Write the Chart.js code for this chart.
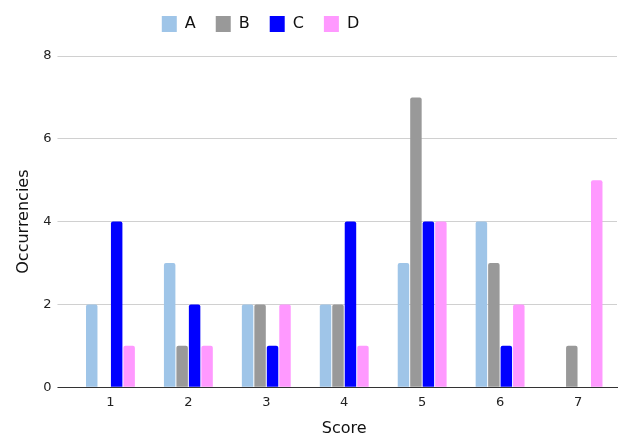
<!DOCTYPE html>
<html><head><meta charset="utf-8">
<script src="https://cdn.jsdelivr.net/npm/chart.js@4/dist/chart.umd.min.js"></script>
<style>html,body{margin:0;padding:0;background:#fff}#w{width:620px;height:436px}</style>
</head><body><div id="w"><canvas id="c"></canvas></div>
<script>
const categories = ["1","2","3","4","5","6","7"];
const seriesA = [2,3,2,2,3,4,0];
const seriesB = [0,1,2,2,7,3,1];
const seriesC = [4,2,1,4,4,1,0];
const seriesD = [1,1,2,1,4,2,5];
const yTicks = [0,2,4,6,8];
Chart.defaults.font.family = "DejaVu Sans";
Chart.defaults.color = "#222";
const mk = (label, data, color) => ({label, data, backgroundColor: color, borderColor: color, borderWidth: 0, borderRadius: 2, borderSkipped: 'bottom', categoryPercentage: 0.64, barPercentage: 0.92});
const legendTweak = {
  id: 'legendTweak',
  beforeInit(chart) {
    const lg = chart.legend;
    const orig = lg.fit;
    lg.fit = function() { orig.call(this); this.height += 14; };
  },
  afterLayout(chart) {
    const lg = chart.legend;
    lg.left -= 53; lg.right -= 53;
  }
};
new Chart(document.getElementById('c'), {
  type: 'bar',
  data: {labels: categories, datasets: [
    mk('A', seriesA, '#9fc5e8'),
    mk('B', seriesB, '#999999'),
    mk('C', seriesC, '#0000ff'),
    mk('D', seriesD, '#ff99ff')
  ]},
  plugins: [legendTweak],
  options: {
    responsive: true, maintainAspectRatio: false, animation: false,
    layout: {padding: {left: 10, right: 3, top: -4, bottom: -2}},
    plugins: {
      legend: {position: 'top', labels: {boxWidth: 15, boxHeight: 16, padding: 20, font: {size: 16}, color: '#111'}},
      tooltip: {enabled: false}
    },
    scales: {
      x: {
        grid: {display: false, drawTicks: false},
        border: {display: true, color: '#333'},
        ticks: {font: {size: 13}, padding: 8},
        title: {display: true, text: 'Score', font: {size: 16}, color: '#111', padding: {top: 0, bottom: 0}}
      },
      y: {
        min: 0, max: 8,
        afterBuildTicks: ax => { ax.ticks = yTicks.map(v => ({value: v})); },
        grid: {color: ctx => ctx.tick && ctx.tick.value === 0 ? '#333' : '#d0d0d0', tickLength: 14, tickColor: ctx => ctx.tick && ctx.tick.value === 0 ? '#333' : '#d0d0d0'},
        border: {display: false},
        ticks: {font: {size: 13}, padding: 6},
        title: {display: true, text: 'Occurrencies', font: {size: 16}, color: '#111', padding: {bottom: 4}}
      }
    }
  }
});
</script></body></html>
